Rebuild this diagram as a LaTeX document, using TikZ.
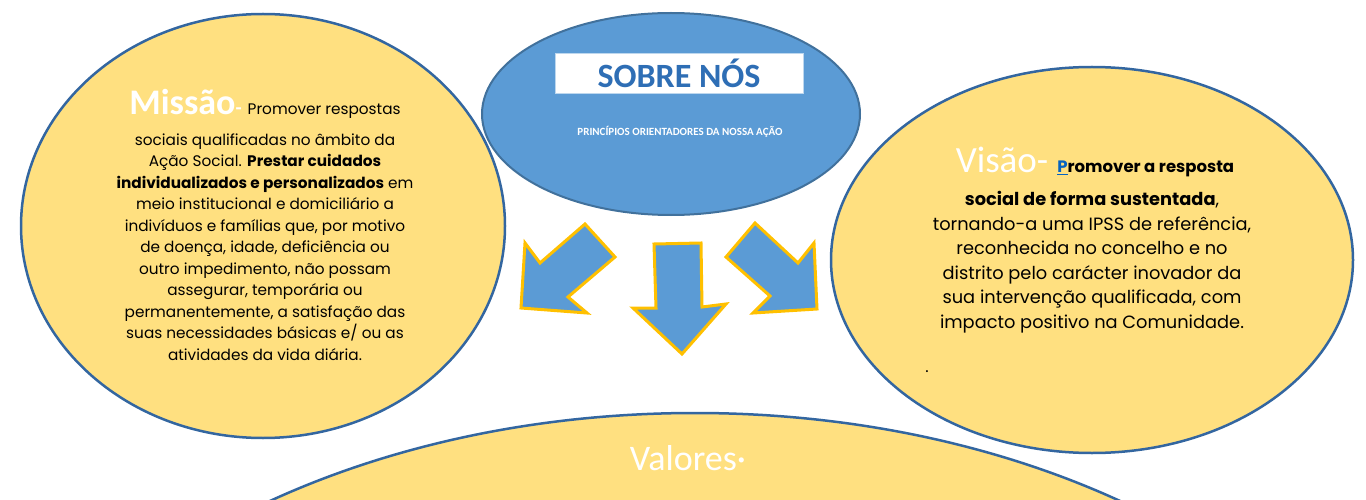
\documentclass[tikz,border=0pt]{standalone}
\usepackage{fontspec}
\setmainfont{Poppins}
\newfontfamily\calibri{Carlito}
\usetikzlibrary{shapes.geometric, positioning}
\definecolor{ovalyellow}{HTML}{FFE080}
\definecolor{ovalline}{HTML}{3366A0}
\definecolor{midblue}{HTML}{5B9BD5}
\definecolor{darkblue}{HTML}{41719C}
\definecolor{arrowgold}{HTML}{FFC000}
\definecolor{titleblue}{HTML}{2E6EB5}
\definecolor{linkblue}{HTML}{0563C1}
\tikzset{
    yellowoval/.style={ellipse, draw=ovalline, line width=2.5pt, fill=ovalyellow, inner sep=0pt},
    blueoval/.style={ellipse, draw=darkblue, line width=2pt, fill=midblue, inner sep=0pt},
    bigarrow/.style={draw=arrowgold, line width=3pt, fill=midblue, line join=miter},
    heading/.style={inner sep=0pt, anchor=base},
    bodyleft/.style={align=center, inner sep=0pt, anchor=base, font=\fontsize{15.3}{21.5}\selectfont},
    bodyright/.style={align=center, inner sep=0pt, anchor=base, font=\fontsize{17.8}{24.5}\selectfont}
}

\begin{document}
\begin{tikzpicture}[x=1pt, y=-1pt]
    \useasboundingbox (0,0) rectangle (1366,500);
    \clip (0,0) rectangle (1366,500);
    \node (missao) [yellowoval, minimum width=484pt, minimum height=424pt] at (263,226) {};
    \node (visao) [yellowoval, minimum width=522pt, minimum height=386pt] at (1092,260) {};
    \node (valores) [yellowoval, minimum width=1500pt, minimum height=1000pt] at (695,913) {};
    \node (sobre) [blueoval, minimum width=378pt, minimum height=202pt] at (671,114) {};
    \node (titulo) [draw=midblue!40, fill=white, minimum width=248pt, minimum height=40pt, inner sep=0pt, text=titleblue, font=\calibri\bfseries\fontsize{34}{34}\selectfont] at (679,73) {SOBRE NÓS};
    \node (principios) [text=white, font=\calibri\bfseries\fontsize{11}{11}\selectfont] at (680,132) {PRINCÍPIOS ORIENTADORES DA NOSSA AÇÃO};

    \draw [bigarrow] (521,308) -- (525,243) -- (540,263) -- (585,224) -- (615,257) -- (568,297) -- (587,313) -- cycle;
    \draw [bigarrow] (654,244) -- (701,243) -- (702,307) -- (726,304) -- (682,354) -- (633,308) -- (656,308) -- cycle;
    \draw [bigarrow] (755,223) -- (726,257) -- (770,296) -- (753,313) -- (817,309) -- (814,243) -- (798,263) -- cycle;

    \node (missaohead) [heading] at (265,115) {{\calibri\bfseries\fontsize{36}{36}\selectfont\color{white}Missão}{\calibri\bfseries\fontsize{20}{20}\selectfont\color{white}-}\hspace{6pt}{\fontsize{15.3}{15.3}\selectfont Promover respostas}};
    \node (missaotxt) [bodyleft] at (265,360) {sociais qualificadas no âmbito da\\Ação Social. \textbf{Prestar cuidados}\\\textbf{individualizados e personalizados} em\\meio institucional e domiciliário a\\indivíduos e famílias que, por motivo\\de doença, idade, deficiência ou\\outro impedimento, não possam\\assegurar, temporária ou\\permanentemente, a satisfação das\\suas necessidades básicas e/ ou as\\atividades da vida diária.};

    \node (visaohead) [heading] at (1095,173) {{\calibri\fontsize{37}{37}\selectfont\color{white}Visão-}\hspace{9pt}{\fontsize{16.5}{16.5}\selectfont\bfseries{\color{linkblue}\underline{P}}romover a resposta}};
    \node (visaotxt) [bodyright] at (1092,328) {\textbf{social de forma sustentada},\\tornando-a uma IPSS de referência,\\reconhecida no concelho e no\\distrito pelo carácter inovador da\\sua intervenção qualificada, com\\impacto positivo na Comunidade.};
    \node (ponto) [heading, font=\fontsize{16}{16}\selectfont] at (927,372) {.};

    \node (valorestxt) [heading, text=white, font=\calibri\fontsize{36}{36}\selectfont] at (688,470) {Valores·};
\end{tikzpicture}
\end{document}
